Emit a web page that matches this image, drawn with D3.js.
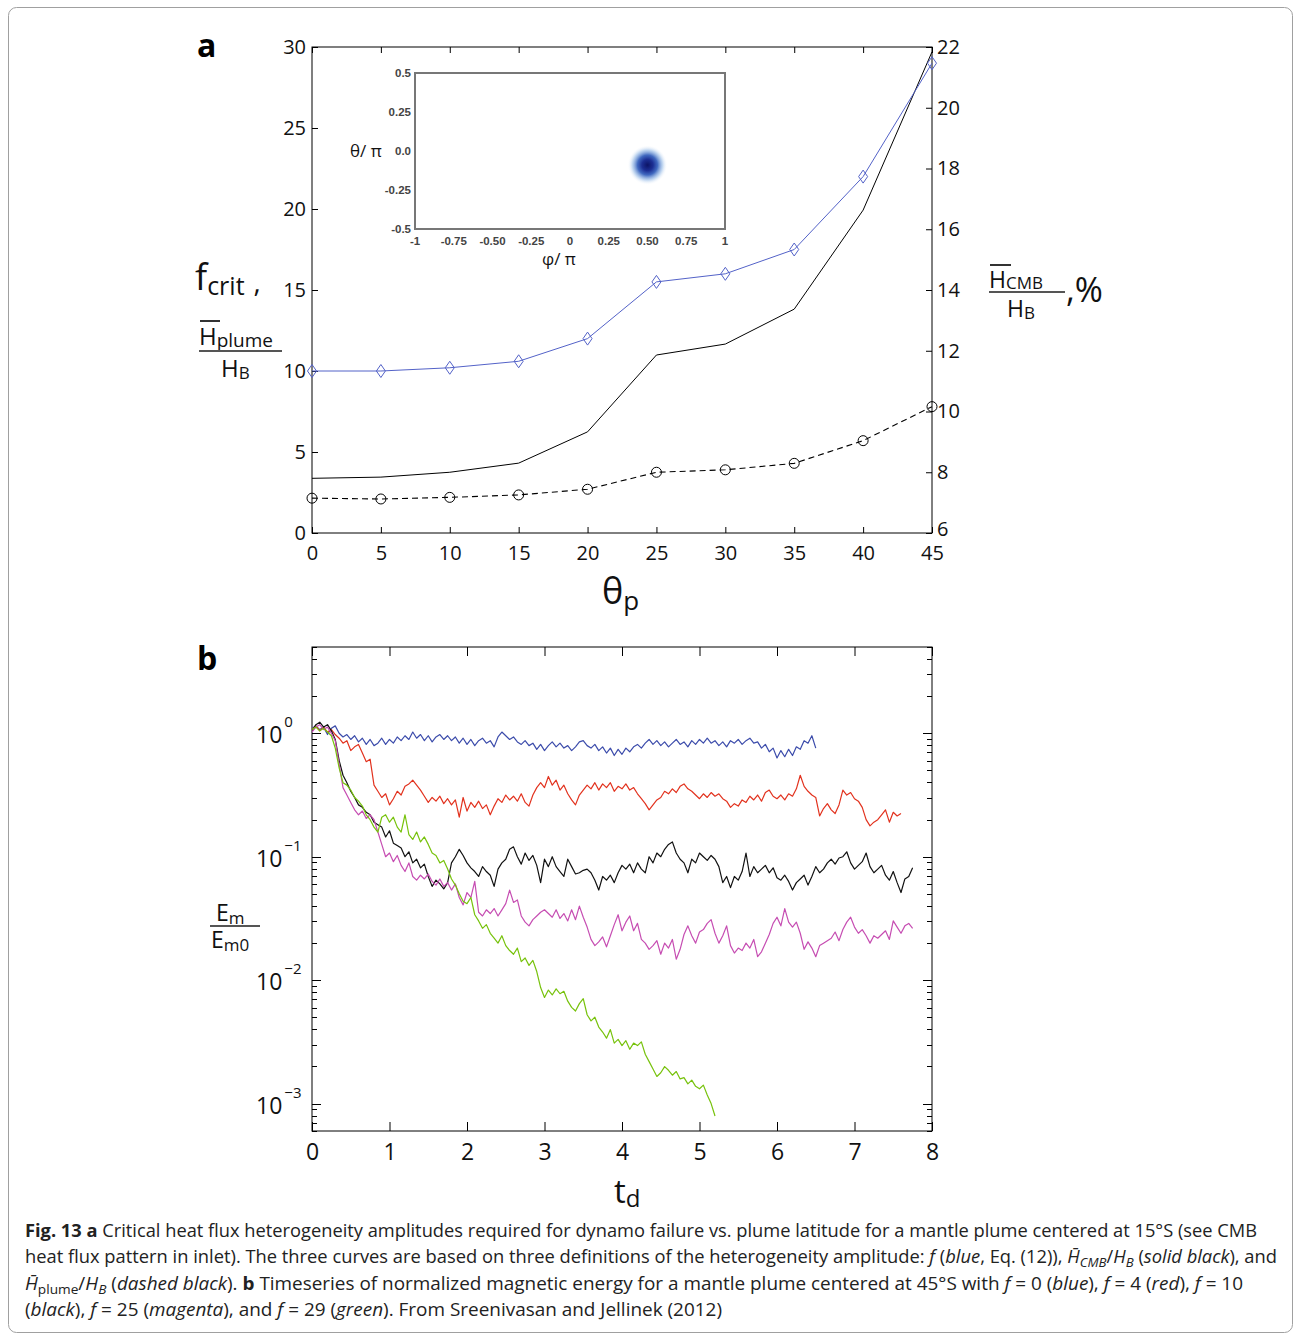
<!DOCTYPE html>
<html><head><meta charset="utf-8">
<script src="https://cdn.jsdelivr.net/npm/d3@7"></script>
<style>
body{margin:0;background:#fff}
svg{display:block}
</style>
</head><body>
<svg id="c" width="1294" height="1334"></svg>
<script>
// ---------------- Panel a data ----------------
const thetaP   = [0, 5, 10, 15, 20, 25, 30, 35, 40, 45];
const fCrit    = [10, 10, 10.2, 10.6, 12, 15.5, 16, 17.5, 22, 29];           // blue, left axis
const hCmbPct  = [7.8, 7.84, 8.0, 8.3, 9.33, 11.86, 12.22, 13.37, 16.63, 21.84]; // solid black, right axis
const hPlume   = [2.15, 2.1, 2.2, 2.35, 2.7, 3.75, 3.9, 4.3, 5.7, 7.8];     // dashed black, left axis
const leftTicksA  = [0, 5, 10, 15, 20, 25, 30];
const rightTicksA = [6, 8, 10, 12, 14, 16, 18, 20, 22];
const xTicksA     = [0, 5, 10, 15, 20, 25, 30, 35, 40, 45];
// inset
const insetXTicks = [-1, -0.75, -0.5, -0.25, 0, 0.25, 0.5, 0.75, 1];
const insetXLabels = ["-1", "-0.75", "-0.50", "-0.25", "0", "0.25", "0.50", "0.75", "1"];
const insetYTicks = [0.5, 0.25, 0, -0.25, -0.5];
const insetYLabels = ["0.5", "0.25", "0.0", "-0.25", "-0.5"];
const plumeCenter = [0.5, -0.09]; // phi/pi, theta/pi

// ---------------- Panel b data ----------------
// log10(Em/Em0) every dt = 0.05 diffusion times
const dt = 0.05;
const blueLog = [0.04,0.06,0.03,0.05,-0.01,0.04,0.06,0.00,-0.03,-0.01,
 -0.05,-0.02,-0.07,-0.04,-0.09,-0.05,-0.10,-0.08,-0.04,-0.09,
 -0.05,-0.08,-0.03,-0.06,-0.02,-0.05,0.01,-0.04,-0.01,-0.06,
 -0.02,-0.07,-0.03,-0.01,-0.05,-0.02,-0.06,-0.03,-0.08,-0.04,
 -0.09,-0.05,-0.10,-0.06,-0.04,-0.08,-0.06,-0.11,-0.03,0.01,
 -0.02,-0.05,-0.03,-0.07,-0.09,-0.06,-0.10,-0.08,-0.13,-0.09,
 -0.14,-0.10,-0.07,-0.11,-0.08,-0.12,-0.10,-0.14,-0.11,-0.07,
 -0.06,-0.10,-0.12,-0.09,-0.14,-0.11,-0.16,-0.12,-0.18,-0.13,
 -0.17,-0.12,-0.15,-0.11,-0.09,-0.12,-0.08,-0.05,-0.09,-0.06,
 -0.10,-0.07,-0.11,-0.08,-0.05,-0.09,-0.07,-0.11,-0.06,-0.09,
 -0.05,-0.08,-0.04,-0.08,-0.06,-0.10,-0.07,-0.11,-0.06,-0.08,
 -0.05,-0.09,-0.06,-0.04,-0.08,-0.07,-0.12,-0.09,-0.15,-0.12,
 -0.20,-0.14,-0.19,-0.13,-0.18,-0.11,-0.13,-0.06,-0.08,-0.02,
 -0.12];
const redLog = [0.03,0.06,0.02,0.05,0.01,0.03,-0.01,-0.04,-0.08,-0.06,
 -0.14,-0.11,-0.09,-0.16,-0.23,-0.21,-0.42,-0.47,-0.52,-0.49,
 -0.58,-0.53,-0.47,-0.50,-0.43,-0.41,-0.38,-0.42,-0.46,-0.51,
 -0.56,-0.52,-0.55,-0.51,-0.57,-0.53,-0.58,-0.54,-0.68,-0.52,
 -0.63,-0.56,-0.60,-0.55,-0.61,-0.58,-0.66,-0.59,-0.53,-0.56,
 -0.50,-0.54,-0.51,-0.55,-0.49,-0.56,-0.59,-0.50,-0.44,-0.40,
 -0.44,-0.35,-0.42,-0.38,-0.46,-0.42,-0.49,-0.54,-0.58,-0.50,
 -0.46,-0.42,-0.45,-0.40,-0.46,-0.41,-0.44,-0.40,-0.47,-0.43,
 -0.45,-0.41,-0.46,-0.44,-0.49,-0.53,-0.57,-0.62,-0.58,-0.54,
 -0.52,-0.47,-0.49,-0.45,-0.48,-0.43,-0.41,-0.45,-0.47,-0.50,
 -0.53,-0.49,-0.52,-0.48,-0.51,-0.49,-0.53,-0.55,-0.60,-0.57,
 -0.59,-0.54,-0.56,-0.51,-0.54,-0.50,-0.55,-0.48,-0.46,-0.51,
 -0.53,-0.50,-0.54,-0.49,-0.51,-0.45,-0.34,-0.43,-0.47,-0.50,
 -0.52,-0.67,-0.61,-0.57,-0.62,-0.65,-0.58,-0.46,-0.50,-0.48,
 -0.53,-0.55,-0.60,-0.70,-0.75,-0.72,-0.70,-0.66,-0.62,-0.72,
 -0.64,-0.67,-0.65];
const blackLog = [0.02,0.07,0.09,0.05,0.07,0.02,-0.05,-0.22,-0.34,-0.40,
 -0.47,-0.52,-0.58,-0.60,-0.64,-0.66,-0.72,-0.74,-0.76,-0.84,
 -0.79,-0.89,-0.91,-0.93,-1.00,-0.96,-1.05,-1.02,-1.09,-1.06,
 -1.16,-1.24,-1.19,-1.22,-1.26,-1.21,-1.05,-1.00,-0.94,-0.99,
 -1.05,-1.09,-1.12,-1.16,-1.08,-1.12,-1.15,-1.24,-1.10,-1.05,
 -1.02,-0.94,-0.92,-1.00,-1.06,-0.97,-1.03,-0.99,-1.07,-1.21,
 -1.02,-1.08,-1.00,-1.08,-1.12,-1.16,-1.02,-1.08,-1.14,-1.13,
 -1.11,-1.10,-1.13,-1.19,-1.27,-1.16,-1.19,-1.15,-1.21,-1.13,
 -1.07,-1.10,-1.06,-1.13,-1.05,-1.10,-1.13,-1.00,-1.05,-0.97,
 -1.00,-0.94,-0.90,-0.88,-0.97,-1.02,-1.05,-1.13,-1.02,-1.05,
 -0.97,-1.00,-1.03,-0.99,-1.02,-1.08,-1.21,-1.16,-1.25,-1.16,
 -1.19,-1.12,-0.97,-1.16,-1.08,-1.13,-1.10,-1.07,-1.13,-1.09,
 -1.17,-1.19,-1.15,-1.20,-1.27,-1.21,-1.18,-1.15,-1.23,-1.16,
 -1.08,-1.13,-1.10,-1.05,-1.02,-1.06,-1.01,-1.00,-0.96,-1.05,
 -1.10,-1.07,-1.04,-0.97,-1.08,-1.13,-1.10,-1.07,-1.15,-1.19,
 -1.12,-1.21,-1.29,-1.18,-1.16,-1.09];
const magentaLog = [0.01,0.05,0.07,0.03,0.05,0.00,-0.06,-0.25,-0.44,-0.50,
 -0.56,-0.62,-0.66,-0.63,-0.69,-0.66,-0.70,-0.80,-0.90,-1.00,
 -0.97,-1.04,-0.99,-1.07,-1.12,-1.05,-1.16,-1.19,-1.15,-1.18,
 -1.14,-1.20,-1.23,-1.18,-1.24,-1.21,-1.27,-1.22,-1.33,-1.39,
 -1.29,-1.33,-1.20,-1.45,-1.48,-1.43,-1.46,-1.42,-1.48,-1.43,
 -1.38,-1.27,-1.37,-1.35,-1.48,-1.53,-1.56,-1.51,-1.48,-1.45,
 -1.43,-1.46,-1.49,-1.43,-1.50,-1.46,-1.52,-1.43,-1.51,-1.40,
 -1.49,-1.57,-1.67,-1.72,-1.69,-1.65,-1.73,-1.64,-1.55,-1.47,
 -1.60,-1.53,-1.48,-1.60,-1.54,-1.67,-1.70,-1.75,-1.72,-1.68,
 -1.79,-1.70,-1.74,-1.67,-1.83,-1.75,-1.63,-1.56,-1.64,-1.70,
 -1.61,-1.59,-1.54,-1.51,-1.62,-1.70,-1.64,-1.56,-1.72,-1.78,
 -1.74,-1.76,-1.70,-1.74,-1.67,-1.81,-1.77,-1.70,-1.63,-1.54,
 -1.49,-1.56,-1.42,-1.53,-1.57,-1.53,-1.62,-1.75,-1.69,-1.74,
 -1.81,-1.72,-1.70,-1.68,-1.66,-1.61,-1.68,-1.59,-1.53,-1.49,
 -1.57,-1.62,-1.59,-1.64,-1.70,-1.64,-1.66,-1.63,-1.60,-1.67,
 -1.52,-1.57,-1.62,-1.56,-1.54,-1.58];
const greenLog = [0.03,0.05,0.02,0.04,0.01,-0.02,-0.12,-0.28,-0.40,-0.42,
 -0.46,-0.52,-0.55,-0.59,-0.66,-0.70,-0.76,-0.80,-0.68,-0.66,
 -0.72,-0.68,-0.76,-0.80,-0.66,-0.82,-0.86,-0.80,-0.88,-0.84,
 -0.90,-0.97,-0.99,-1.05,-1.03,-1.10,-1.18,-1.23,-1.30,-1.36,
 -1.38,-1.33,-1.47,-1.52,-1.58,-1.55,-1.62,-1.66,-1.70,-1.64,
 -1.72,-1.76,-1.79,-1.74,-1.85,-1.82,-1.88,-1.84,-1.93,-2.06,
 -2.14,-2.08,-2.12,-2.07,-2.11,-2.09,-2.17,-2.22,-2.25,-2.19,
 -2.15,-2.28,-2.33,-2.30,-2.38,-2.42,-2.47,-2.40,-2.51,-2.48,
 -2.53,-2.49,-2.56,-2.51,-2.53,-2.50,-2.60,-2.66,-2.72,-2.78,
 -2.75,-2.70,-2.73,-2.77,-2.74,-2.80,-2.79,-2.84,-2.81,-2.86,
 -2.88,-2.85,-2.93,-3.00,-3.10];
const xTicksB = [0, 1, 2, 3, 4, 5, 6, 7, 8];
const decadesB = [0, -1, -2, -3];
const expLabels = ["0", "\u22121", "\u22122", "\u22123"];

const FONT = '"Open Sans","Noto Sans",sans-serif';
const svg = d3.select('#c');

// outer frame
svg.append('rect').attr('x', 8.5).attr('y', 7.5).attr('width', 1284).attr('height', 1325)
  .attr('rx', 8).attr('fill', 'none').attr('stroke', '#a0a0a0').attr('stroke-width', 1);

function styleAxis(g, size) {
  g.select('.domain').remove();
  g.selectAll('text').attr('font-size', size).attr('fill', '#111').attr('font-family', FONT);
  g.selectAll('line').attr('stroke', '#000');
  return g;
}

// ================= PANEL A =================
const xA = d3.scaleLinear([0, 45], [312, 932]);
const yL = d3.scaleLinear([0, 30], [533, 47]);
const yR = d3.scaleLinear([6, 22], [533, 47]);

styleAxis(svg.append('g').attr('transform', 'translate(312,0)')
  .call(d3.axisLeft(yL).tickValues(leftTicksA).tickSize(-6).tickPadding(6)), 20);
const gR = styleAxis(svg.append('g').attr('transform', 'translate(932,0)')
  .call(d3.axisRight(yR).tickValues(rightTicksA).tickSize(-6).tickPadding(5)), 20);
gR.selectAll('.tick').filter(d => d === 6).select('text').attr('dy', '0.1em');
styleAxis(svg.append('g').attr('transform', 'translate(0,533)')
  .call(d3.axisBottom(xA).tickValues(xTicksA).tickSize(-6).tickPadding(13)), 20);
styleAxis(svg.append('g').attr('transform', 'translate(0,47)')
  .call(d3.axisTop(xA).tickValues(xTicksA).tickSize(-6).tickFormat('')), 20);
svg.append('rect').attr('x', 312).attr('y', 47).attr('width', 620).attr('height', 486)
  .attr('fill', 'none').attr('stroke', '#000').attr('stroke-width', 1);

// solid black (right axis)
svg.append('path').datum(thetaP.map((t, i) => [t, hCmbPct[i]]))
  .attr('d', d3.line().x(d => xA(d[0])).y(d => yR(d[1])))
  .attr('fill', 'none').attr('stroke', '#000').attr('stroke-width', 1);
// dashed black with circles (left axis)
svg.append('path').datum(thetaP.map((t, i) => [t, hPlume[i]]))
  .attr('d', d3.line().x(d => xA(d[0])).y(d => yL(d[1])))
  .attr('fill', 'none').attr('stroke', '#000').attr('stroke-width', 1.1).attr('stroke-dasharray', '6,4');
svg.append('g').selectAll('circle').data(thetaP.map((t, i) => [t, hPlume[i]])).join('circle')
  .attr('cx', d => xA(d[0])).attr('cy', d => yL(d[1])).attr('r', 5)
  .attr('fill', 'none').attr('stroke', '#000').attr('stroke-width', 1);
// blue with diamonds (left axis)
const BLUE_A = '#5362c8';
svg.append('path').datum(thetaP.map((t, i) => [t, fCrit[i]]))
  .attr('d', d3.line().x(d => xA(d[0])).y(d => yL(d[1])))
  .attr('fill', 'none').attr('stroke', BLUE_A).attr('stroke-width', 1);
svg.append('g').selectAll('path').data(thetaP.map((t, i) => [t, fCrit[i]])).join('path')
  .attr('d', d => { const x = xA(d[0]), y = yL(d[1]); return `M${x},${y-6.5}L${x+4.5},${y}L${x},${y+6.5}L${x-4.5},${y}Z`; })
  .attr('fill', 'none').attr('stroke', BLUE_A).attr('stroke-width', 1);

// inset
const xI = d3.scaleLinear([-1, 1], [415, 725]);
const yI = d3.scaleLinear([-0.5, 0.5], [229, 73]);
const defs = svg.append('defs');
const rg = defs.append('radialGradient').attr('id', 'blob');
[[0, '#0c1466', 1], [0.28, '#1c2f94', 1], [0.5, '#3762bd', 0.95], [0.75, '#9dbfe8', 0.65], [1, '#ffffff', 0]]
  .forEach(s => rg.append('stop').attr('offset', s[0]).attr('stop-color', s[1]).attr('stop-opacity', s[2]));
svg.append('rect').attr('x', xI(-1)).attr('y', yI(0.5)).attr('width', xI(1) - xI(-1)).attr('height', yI(-0.5) - yI(0.5))
  .attr('fill', '#fff').attr('stroke', '#777').attr('stroke-width', 2);
svg.append('circle').attr('cx', xI(plumeCenter[0])).attr('cy', yI(plumeCenter[1])).attr('r', 20).attr('fill', 'url(#blob)');
svg.append('g').selectAll('text').data(insetXTicks).join('text')
  .attr('x', d => xI(d)).attr('y', 245).attr('text-anchor', 'middle')
  .attr('font-family', '"Liberation Sans",Arial,sans-serif').attr('font-weight', 'bold').attr('font-size', 11.5).attr('fill', '#444')
  .text((d, i) => insetXLabels[i]);
svg.append('g').selectAll('text').data(insetYTicks).join('text')
  .attr('x', 411).attr('y', d => yI(d) + 4).attr('text-anchor', 'end')
  .attr('font-family', '"Liberation Sans",Arial,sans-serif').attr('font-weight', 'bold').attr('font-size', 11.5).attr('fill', '#444')
  .text((d, i) => insetYLabels[i]);
svg.append('text').attr('x', 350).attr('y', 157).attr('font-family', FONT).attr('font-size', 17).attr('fill', '#111').text('θ/ π');
svg.append('text').attr('x', 542).attr('y', 265).attr('font-family', FONT).attr('font-size', 17).attr('fill', '#111').text('φ/ π');

// panel a labels
svg.append('text').attr('x', 197).attr('y', 57).attr('font-family', FONT).attr('font-weight', 'bold').attr('font-size', 32).text('a');
const fl = svg.append('text').attr('x', 195).attr('y', 290).attr('font-family', FONT).attr('fill', '#111');
fl.append('tspan').attr('font-size', 36).text('f');
fl.append('tspan').attr('font-size', 25).attr('dy', 5).text('crit');
fl.append('tspan').attr('font-size', 28).attr('dy', -3).attr('dx', 9).text(',');
const hp = svg.append('text').attr('x', 199).attr('y', 345).attr('font-family', FONT).attr('fill', '#111');
hp.append('tspan').attr('font-size', 24).text('H');
hp.append('tspan').attr('font-size', 19).attr('dy', 2).text('plume');
svg.append('line').attr('x1', 200).attr('x2', 220).attr('y1', 321).attr('y2', 321).attr('stroke', '#333').attr('stroke-width', 2);
svg.append('line').attr('x1', 199).attr('x2', 282).attr('y1', 351).attr('y2', 351).attr('stroke', '#555').attr('stroke-width', 2);
const hb = svg.append('text').attr('x', 221).attr('y', 377).attr('font-family', FONT).attr('fill', '#111');
hb.append('tspan').attr('font-size', 24).text('H');
hb.append('tspan').attr('font-size', 17).attr('dy', 2).text('B');

const hc = svg.append('text').attr('x', 989).attr('y', 288).attr('font-family', FONT).attr('fill', '#111');
hc.append('tspan').attr('font-size', 23).text('H');
hc.append('tspan').attr('font-size', 17).attr('dy', 1).text('CMB');
svg.append('line').attr('x1', 990).attr('x2', 1011).attr('y1', 265).attr('y2', 265).attr('stroke', '#333').attr('stroke-width', 2);
svg.append('line').attr('x1', 989).attr('x2', 1065).attr('y1', 292).attr('y2', 292).attr('stroke', '#555').attr('stroke-width', 2);
const hb2 = svg.append('text').attr('x', 1007).attr('y', 317).attr('font-family', FONT).attr('fill', '#111');
hb2.append('tspan').attr('font-size', 23).text('H');
hb2.append('tspan').attr('font-size', 17).attr('dy', 2).text('B');
svg.append('text').attr('x', 1066).attr('y', 302).attr('font-family', FONT).attr('font-size', 34).attr('fill', '#111').text(',%');

const tl = svg.append('text').attr('x', 602).attr('y', 604).attr('font-family', FONT).attr('fill', '#111');
tl.append('tspan').attr('font-size', 36).text('θ');
tl.append('tspan').attr('font-size', 26).attr('dy', 6).text('p');

// ================= PANEL B =================
const xB = d3.scaleLinear([0, 8], [312, 932]);
const yB = d3.scaleLog([6e-4, 5], [1131, 647]);

styleAxis(svg.append('g').attr('transform', 'translate(0,1131)')
  .call(d3.axisBottom(xB).tickValues(xTicksB).tickSize(-9).tickPadding(13)), 23);
styleAxis(svg.append('g').attr('transform', 'translate(0,647)')
  .call(d3.axisTop(xB).tickValues(xTicksB).tickSize(-9).tickFormat('')), 23);

// log ticks (major + minor) on left and right, inside
const logTicks = [];
[-4, -3, -2, -1, 0].forEach(d => { for (let k = 1; k <= 9; k++) { const v = k * Math.pow(10, d); if (v >= 6e-4 && v <= 5) logTicks.push({ v, major: k === 1 }); } });
const tg = svg.append('g').attr('stroke', '#000').attr('stroke-width', 1);
logTicks.forEach(t => {
  const y = Math.round(yB(t.v)) + 0.5, L = t.major ? 9 : 5;
  tg.append('line').attr('x1', 312).attr('x2', 312 + L).attr('y1', y).attr('y2', y);
  tg.append('line').attr('x1', 932).attr('x2', 932 - L).attr('y1', y).attr('y2', y);
});
decadesB.forEach((d, i) => {
  const y = yB(Math.pow(10, d));
  const t = svg.append('text').attr('x', 256).attr('y', y + 10).attr('font-family', FONT).attr('fill', '#111');
  t.append('tspan').attr('font-size', 23).text('10');
  t.append('tspan').attr('font-size', 15).attr('dy', -16).attr('dx', 2).text(expLabels[i]);
});
svg.append('rect').attr('x', 312).attr('y', 647).attr('width', 620).attr('height', 484)
  .attr('fill', 'none').attr('stroke', '#000').attr('stroke-width', 1);

defs.append('clipPath').attr('id', 'clipB').append('rect').attr('x', 312).attr('y', 647).attr('width', 620).attr('height', 484);
const seriesB = [
  { logs: blueLog, color: '#3c4cab' },
  { logs: redLog, color: '#e2321e' },
  { logs: blackLog, color: '#111111' },
  { logs: magentaLog, color: '#c64db2' },
  { logs: greenLog, color: '#77c20c' }
];
const lineB = d3.line().x(d => xB(d.t)).y(d => yB(d.e));
const gB = svg.append('g').attr('clip-path', 'url(#clipB)');
seriesB.forEach(s => {
  const pts = s.logs.map((v, i) => ({ t: i * dt, e: Math.pow(10, v) }));
  gB.append('path').datum(pts).attr('d', lineB).attr('fill', 'none')
    .attr('stroke', s.color).attr('stroke-width', 1.2).attr('stroke-linejoin', 'round');
});

svg.append('text').attr('x', 197).attr('y', 670).attr('font-family', FONT).attr('font-weight', 'bold').attr('font-size', 32).text('b');
const td = svg.append('text').attr('x', 614).attr('y', 1203).attr('font-family', FONT).attr('fill', '#111');
td.append('tspan').attr('font-size', 33).text('t');
td.append('tspan').attr('font-size', 24).attr('dy', 4).text('d');
const em = svg.append('text').attr('x', 216).attr('y', 921).attr('font-family', FONT).attr('fill', '#111');
em.append('tspan').attr('font-size', 23).text('E');
em.append('tspan').attr('font-size', 17).attr('dy', 3).text('m');
svg.append('line').attr('x1', 210).attr('x2', 260).attr('y1', 926).attr('y2', 926).attr('stroke', '#555').attr('stroke-width', 2);
const em0 = svg.append('text').attr('x', 211).attr('y', 948).attr('font-family', FONT).attr('fill', '#111');
em0.append('tspan').attr('font-size', 23).text('E');
em0.append('tspan').attr('font-size', 17).attr('dy', 3).text('m0');

// ================= CAPTION =================
const capLines = [
  { y: 1237, w: 1232, segs: [['Fig. 13 a', 'b'], [' Critical heat flux heterogeneity amplitudes required for dynamo failure vs. plume latitude for a mantle plume centered at 15°S (see CMB', '']] },
  { y: 1263, w: 1252, segs: [['heat flux pattern in inlet). The three curves are based on three definitions of the heterogeneity amplitude: ', ''], ['f', 'i'], [' (', ''], ['blue', 'i'], [', Eq. (12)), ', ''], ['H\u0304', 'i'], ['CMB', 'isub'], ['/', ''], ['H', 'i'], ['B', 'isub'], [' (', ''], ['solid black', 'i'], ['), and', '']] },
  { y: 1290, w: 1218, segs: [['H\u0304', 'i'], ['plume', 'sub'], ['/', ''], ['H', 'i'], ['B', 'isub'], [' (', ''], ['dashed black', 'i'], ['). ', ''], ['b', 'b'], [' Timeseries of normalized magnetic energy for a mantle plume centered at 45°S with ', ''], ['f', 'i'], [' = 0 (', ''], ['blue', 'i'], ['), ', ''], ['f', 'i'], [' = 4 (', ''], ['red', 'i'], ['), ', ''], ['f', 'i'], [' = 10', '']] },
  { y: 1316, w: 697, segs: [['(', ''], ['black', 'i'], ['), ', ''], ['f', 'i'], [' = 25 (', ''], ['magenta', 'i'], ['), and ', ''], ['f', 'i'], [' = 29 (', ''], ['green', 'i'], ['). From Sreenivasan and Jellinek (2012)', '']] }
];
capLines.forEach(L => {
  const t = svg.append('text').attr('x', 25).attr('y', L.y).attr('font-family', FONT).attr('font-size', 18).attr('fill', '#222')
    .attr('textLength', L.w).attr('lengthAdjust', 'spacingAndGlyphs');
  let shifted = false;
  L.segs.forEach(([txt, st]) => {
    const sp = t.append('tspan').text(txt);
    if (st === 'b') sp.attr('font-weight', 'bold');
    if (st === 'i' || st === 'isub') sp.attr('font-style', 'italic');
    const isSub = st === 'sub' || st === 'isub';
    if (isSub) sp.attr('font-size', 13);
    if (isSub && !shifted) { sp.attr('dy', 4); shifted = true; }
    else if (!isSub && shifted) { sp.attr('dy', -4); shifted = false; }
  });
});
</script>
</body></html>
